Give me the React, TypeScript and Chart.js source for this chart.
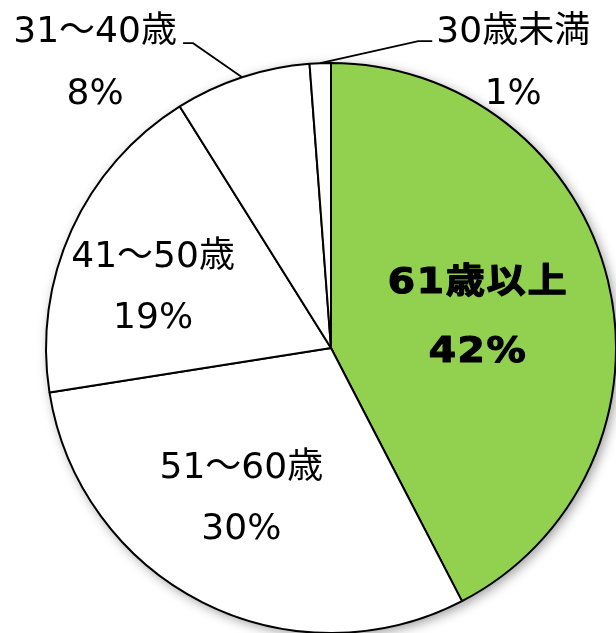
import React, { useEffect, useRef } from "react";
import { Chart, registerables } from "chart.js";

Chart.register(...registerables);

const categories = ["61歳以上", "51～60歳", "41～50歳", "31～40歳", "30歳未満"];
const values = [42.4, 30.1, 18.6, 7.7, 1.2];
const percentLabels = ["42%", "30%", "19%", "8%", "1%"];
const colors = ["#92D050", "#FFFFFF", "#FFFFFF", "#FFFFFF", "#FFFFFF"];

const FONT_FAMILY = '"DejaVu Sans", "Noto Sans CJK JP", sans-serif';

// inside labels: [radius fraction, angle adjust (deg)], null = outside with leader line
const insidePlacement: ({ frac: number; adj: number } | null)[] = [
  { frac: 0.526, adj: 1 },
  { frac: 0.607, adj: 4.4 },
  { frac: 0.663, adj: -4.8 },
  null,
  null,
];
// outside labels: offsets relative to arc outer midpoint
const outsidePlacement: Record<number, { elbow: [number, number]; end: [number, number]; text: [number, number] }> = {
  3: { elbow: [-49, -34], end: [-59, -34], text: [-147, -35] },
  4: { elbow: [98, -22], end: [112, -22], text: [193, -21.7] },
};

function drawSpaced(
  ctx: CanvasRenderingContext2D,
  text: string,
  cx: number,
  y: number,
  spacing: number,
  scaleX = 1,
  embolden = 0
) {
  (ctx as any).letterSpacing = spacing + "px";
  const w = (ctx.measureText(text).width - spacing) * scaleX;
  ctx.textAlign = "left";
  ctx.save();
  ctx.translate(cx - w / 2, y);
  ctx.scale(scaleX, 1);
  ctx.fillText(text, 0, 0);
  if (embolden > 0) {
    ctx.strokeStyle = ctx.fillStyle as string;
    ctx.lineWidth = embolden;
    ctx.lineJoin = "round";
    ctx.strokeText(text, 0, 0);
  }
  ctx.restore();
  (ctx as any).letterSpacing = "0px";
}

const shadowPlugin = {
  id: "pieShadow",
  beforeDatasetsDraw(chart: any) {
    const meta = chart.getDatasetMeta(0);
    const arc = meta.data[0];
    if (!arc) return;
    const { x, y, outerRadius } = arc.getProps(["x", "y", "outerRadius"], true);
    const ctx = chart.ctx;
    ctx.save();
    ctx.shadowColor = "rgba(0,0,0,0.4)";
    ctx.shadowBlur = 12;
    ctx.shadowOffsetX = 3;
    ctx.shadowOffsetY = 3;
    ctx.fillStyle = "#fff";
    ctx.beginPath();
    ctx.arc(x, y, outerRadius, 0, Math.PI * 2);
    ctx.fill();
    ctx.restore();
  },
};

const labelPlugin = {
  id: "pieLabels",
  afterDatasetsDraw(chart: any) {
    const ctx: CanvasRenderingContext2D = chart.ctx;
    const meta = chart.getDatasetMeta(0);
    meta.data.forEach((arc: any, i: number) => {
      const { x, y, startAngle, endAngle, outerRadius } = arc.getProps(
        ["x", "y", "startAngle", "endAngle", "outerRadius"],
        true
      );
      const mid = (startAngle + endAngle) / 2;
      ctx.save();
      ctx.fillStyle = "#000";
      ctx.textBaseline = "alphabetic";
      const place = insidePlacement[i];
      if (place) {
        const a = mid + (place.adj * Math.PI) / 180;
        const d = outerRadius * place.frac;
        const cx = x + Math.cos(a) * d;
        const cy = y + Math.sin(a) * d;
        if (i === 0) {
          ctx.font = "bold 35px " + FONT_FAMILY;
          const gap = 69;
          drawSpaced(ctx, categories[i], cx, cy - gap / 2 + 12.75, 1.5, 1.12, 1.2);
          drawSpaced(ctx, percentLabels[i], cx, cy + gap / 2 + 12.75, 1.5, 1.12, 1.2);
        } else {
          ctx.font = "36px " + FONT_FAMILY;
          const gap = 61;
          drawSpaced(ctx, categories[i], cx, cy - gap / 2 + 13, 0);
          drawSpaced(ctx, percentLabels[i], cx, cy + gap / 2 + 13, 0);
        }
      } else {
        const op = outsidePlacement[i];
        const ax = x + Math.cos(mid) * outerRadius;
        const ay = y + Math.sin(mid) * outerRadius;
        ctx.strokeStyle = "#000";
        ctx.lineWidth = 1.75;
        ctx.beginPath();
        ctx.moveTo(ax, ay);
        ctx.lineTo(ax + op.elbow[0], ay + op.elbow[1]);
        ctx.lineTo(ax + op.end[0], ay + op.end[1]);
        ctx.stroke();
        ctx.font = "36px " + FONT_FAMILY;
        const tx = ax + op.text[0];
        const ty = ay + op.text[1];
        drawSpaced(ctx, categories[i], tx, ty, 0);
        drawSpaced(ctx, percentLabels[i], tx, ty + 62, 0);
      }
      ctx.restore();
    });
  },
};

export default function App() {
  const ref = useRef<HTMLCanvasElement | null>(null);
  useEffect(() => {
    if (!ref.current) return;
    const chart = new Chart(ref.current, {
      type: "pie",
      data: {
        labels: categories,
        datasets: [
          {
            data: values,
            backgroundColor: colors,
            borderColor: "#000",
            borderWidth: 2,
          },
        ],
      },
      options: {
        responsive: false,
        animation: false,
        devicePixelRatio: 1,
        radius: 285,
        layout: { padding: { left: 46, top: 63, right: 0, bottom: 0 } },
        plugins: {
          legend: { display: false },
          tooltip: { enabled: false },
        },
      } as any,
      plugins: [shadowPlugin, labelPlugin],
    });
    return () => chart.destroy();
  }, []);
  return (
    <div style={{ position: "fixed", left: 0, top: 0, width: 616, height: 633, background: "#fff" }}>
      <canvas ref={ref} width={616} height={633} style={{ display: "block" }} />
    </div>
  );
}
